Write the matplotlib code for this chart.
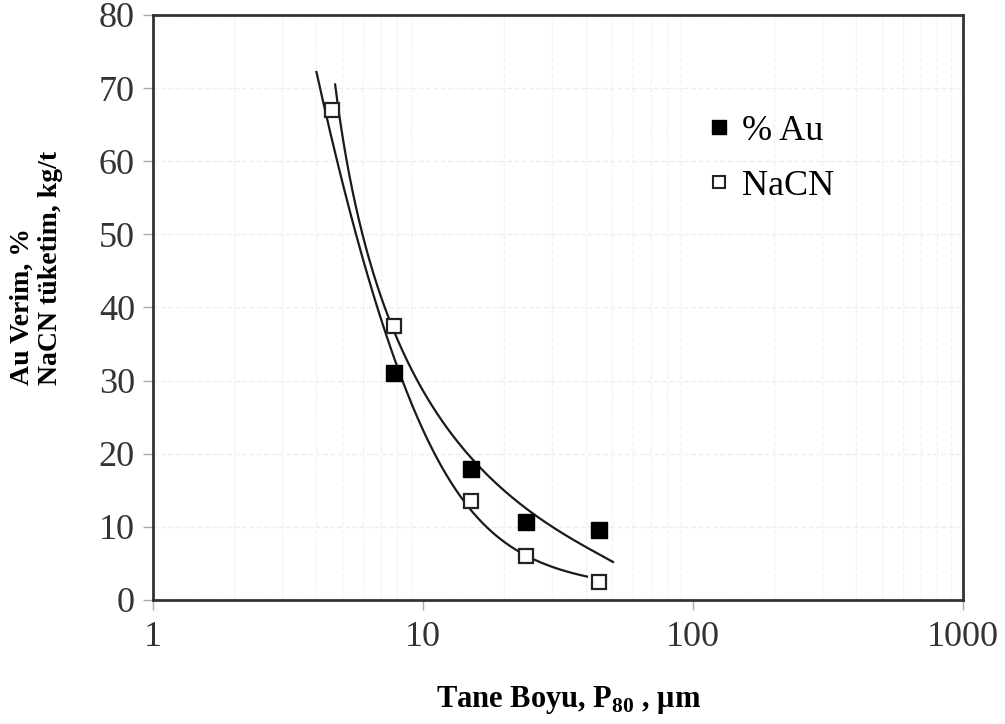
import matplotlib
matplotlib.use("Agg")
import matplotlib.pyplot as plt
from matplotlib.lines import Line2D
import numpy as np

plt.rcParams['font.family'] = ['Liberation Serif', 'DejaVu Serif']

# measured points
size_au = [7.8, 15, 24, 45]
au = [31, 17.9, 10.7, 9.6]
size_nacn = [4.6, 7.8, 15, 24, 45]
nacn = [67, 37.5, 13.5, 6, 2.5]

# points
curve1_x = [4.0, 5.23, 5.7, 7.8, 8.43, 9.76, 15, 23.5, 40.5]
curve1_y = [72.2, 57.5, 52, 31, 27.4, 22.3, 13.9, 6.3, 3.2]
curve2_x = [4.76, 5.27, 6.1, 7.8, 9.76, 11.3, 17.2, 24.9, 50.6]
curve2_y = [70.5, 55.7, 47, 37.7, 30.1, 27.4, 17.4, 11.4, 5.2]

fig = plt.figure(figsize=(10.05, 7.24), dpi=100)
ax = fig.add_axes([0.1522, 0.1713, 0.806, 0.808])

def trend(xs, ys, deg):
    # smooth fit of log10(x) against ln(y), ends weighted more
    w = np.ones(len(xs))
    w[0] = w[-1] = 4
    w[1] = 2
    c = np.polyfit(np.log(ys), np.log10(xs), deg, w=w)
    yy = np.linspace(max(ys), min(ys), 300)
    return 10 ** np.polyval(c, np.log(yy)), yy

for cx, cy in [(curve1_x, curve1_y), (curve2_x, curve2_y)]:
    xx, yy = trend(cx, cy, 3)
    ax.plot(xx, yy, color='#1a1a1a', lw=1.6, zorder=2)

ax.plot(size_au, au, 's', ms=11, color='black', mec='black', zorder=3)
ax.plot(size_nacn, nacn, 's', ms=9.5, mfc='white', mec='#222222', mew=1.6, zorder=3)

ax.set_xscale('log')
ax.set_xlim(1, 1000)
ax.set_ylim(0, 80)
ax.set_yticks(range(0, 81, 10))
ax.set_xticks([1, 10, 100, 1000])
ax.set_xticklabels(['1', '10', '100', '1000'])
ax.minorticks_off()

# faint background grid
ax.grid(True, axis='y', color='#eeeeee', lw=1, ls='--', zorder=0)
ax.set_xticks([2, 3, 4, 5, 6, 7, 8, 9, 20, 30, 40, 50, 60, 70, 80, 90,
               200, 300, 400, 500, 600, 700, 800, 900], minor=True)
ax.grid(True, which='minor', axis='x', color='#f2f2f2', lw=1, ls='--', zorder=0)
ax.tick_params(which='minor', length=0)

for s in ax.spines.values():
    s.set_color('#333333')
    s.set_linewidth(2)

ax.tick_params(axis='both', direction='out', labelsize=26, colors='#aaaaaa',
               labelcolor='#333333', length=7, width=1)
ax.tick_params(axis='x', pad=8)
ax.tick_params(axis='y', pad=6)

fig.text(0.566, 0.033, 'Tane Boyu, P$_{\\mathregular{80}}$ , \u03bcm', fontsize=22,
         fontweight='bold', ha='center', va='center')
fig.text(0.036, 0.630, 'Au Verim, %\nNaCN t\u00fcketim, kg/t', fontsize=20,
         fontweight='bold', rotation=90, ha='center', va='center',
         multialignment='left', linespacing=1.15)

handles = [
    Line2D([], [], ls='none', marker='s', ms=10, color='black', label='% Au'),
    Line2D([], [], ls='none', marker='s', ms=9, mfc='white', mec='#222222',
           mew=1.5, label='NaCN'),
]
ax.legend(handles=handles, loc='upper left', bbox_to_anchor=(0.636, 0.885),
          frameon=False, fontsize=26, handletextpad=0.15, labelspacing=0.6,
          handlelength=1.0)

fig.savefig('out.png', dpi=100)
